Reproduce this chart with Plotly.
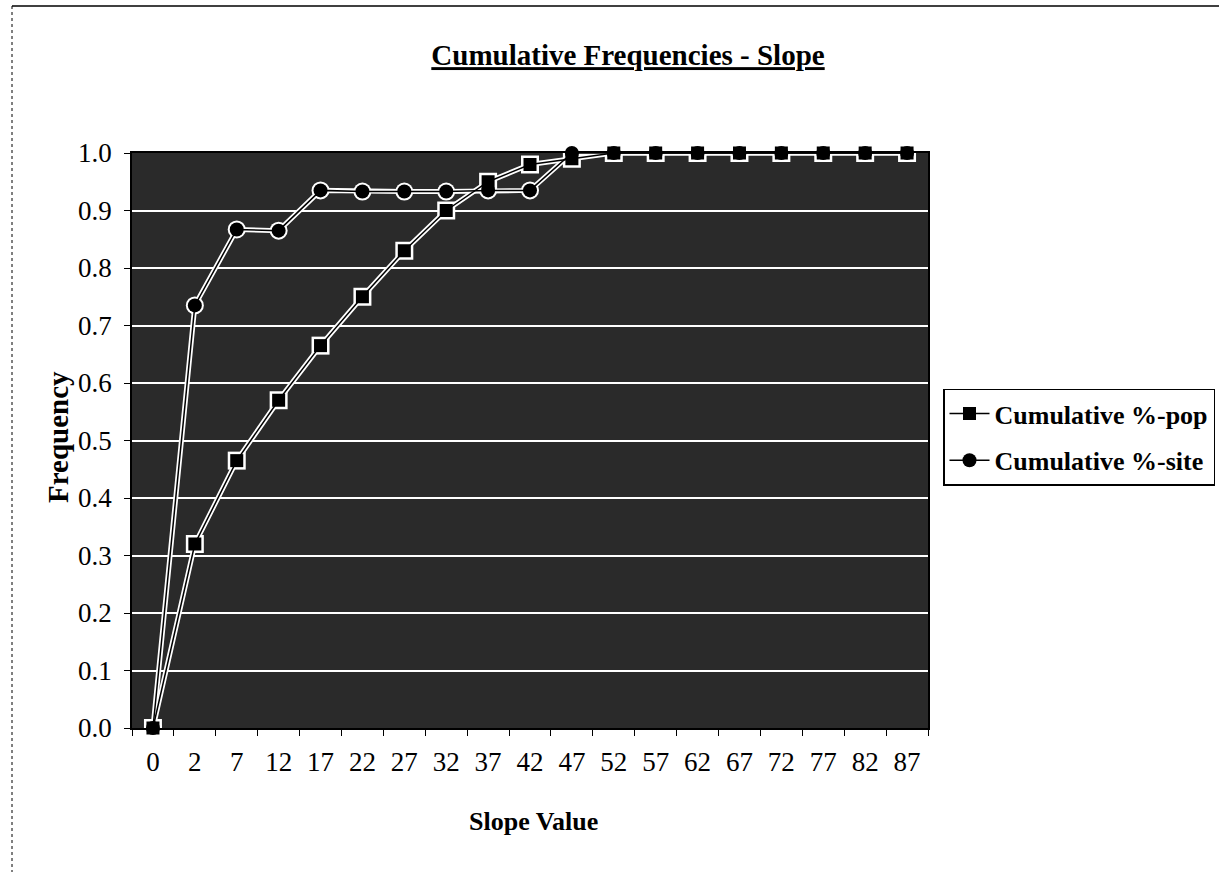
import plotly.graph_objects as go

categories = ["0", "2", "7", "12", "17", "22", "27", "32", "37", "42",
              "47", "52", "57", "62", "67", "72", "77", "82", "87"]
cum_pop = [0.0, 0.32, 0.465, 0.57, 0.665, 0.75, 0.83, 0.90, 0.95, 0.98,
           0.99, 1.0, 1.0, 1.0, 1.0, 1.0, 1.0, 1.0, 1.0]
cum_site = [0.0, 0.735, 0.867, 0.865, 0.935, 0.933, 0.933, 0.933, 0.935, 0.935,
            1.0, 1.0, 1.0, 1.0, 1.0, 1.0, 1.0, 1.0, 1.0]

W, H = 1219, 872
L, R, T, B = 132, 291, 153, 144
FONT = "Liberation Serif, Times New Roman, serif"


def px_x(px):
    return (px - L) / (W - L - R)


def px_y(py):
    return (H - B - py) / (H - T - B)


fig = go.Figure()

# white halo under each series
for ys, sym in ((cum_site, "circle"), (cum_pop, "square")):
    fig.add_trace(go.Scatter(
        x=categories, y=ys, mode="lines+markers", showlegend=False,
        hoverinfo="skip", cliponaxis=False,
        line=dict(color="white", width=5),
        marker=dict(symbol=sym, size=18, color="white"),
    ))

fig.add_trace(go.Scatter(
    x=categories, y=cum_site, mode="lines+markers", name="<b>Cumulative %-site</b>",
    cliponaxis=False, legendgroup="b", legendrank=2,
    line=dict(color="black", width=1.5),
    marker=dict(symbol="circle", size=14, color="black"),
))
fig.add_trace(go.Scatter(
    x=categories, y=cum_pop, mode="lines+markers", name="<b>Cumulative %-pop</b>",
    cliponaxis=False, legendgroup="a", legendrank=1,
    line=dict(color="black", width=1.5),
    marker=dict(symbol="square", size=13, color="black"),
))

shapes = [
    dict(type="line", xref="paper", yref="paper", x0=px_x(12), x1=px_x(1219),
         y0=px_y(6), y1=px_y(6), line=dict(color="black", width=1.5)),
    dict(type="line", xref="paper", yref="paper", x0=px_x(12), x1=px_x(12),
         y0=px_y(6), y1=px_y(872), line=dict(color="black", width=1, dash="dot")),
]

annotations = [
    dict(text="<b>Frequency</b>", xref="paper", yref="paper",
         x=px_x(58), y=px_y(437), xanchor="center", yanchor="middle",
         textangle=-90, showarrow=False, font=dict(size=29, family=FONT, color="black")),
    dict(text="<b>Slope Value</b>", xref="paper", yref="paper",
         x=px_x(533), y=px_y(821), xanchor="center", yanchor="middle",
         showarrow=False, font=dict(size=26, family=FONT, color="black")),
]

fig.update_layout(
    width=W, height=H,
    margin=dict(l=L, r=R, t=T, b=B, autoexpand=False),
    paper_bgcolor="white",
    plot_bgcolor="#2a2a2a",
    font=dict(family=FONT, color="black", size=26),
    title=dict(text="<b><u>Cumulative Frequencies - Slope</u></b>",
               x=628 / W, xref="container", xanchor="center",
               y=1 - 55 / H, yref="container", yanchor="middle",
               font=dict(size=29, family=FONT, color="black")),
    xaxis=dict(
        type="category", categoryorder="array", categoryarray=categories,
        range=[-0.5, len(categories) - 0.5],
        showgrid=False, zeroline=False,
        showline=True, linecolor="black", linewidth=1.5, mirror=True,
        ticks="outside", ticklen=6, tickcolor="black", tickson="boundaries",
        ticklabelstandoff=9,
        tickfont=dict(size=27, family=FONT),
    ),
    yaxis=dict(
        range=[0, 1.0], dtick=0.1, tickformat=".1f",
        showgrid=True, gridcolor="white", gridwidth=1.5,
        zeroline=False,
        showline=True, linecolor="black", linewidth=1.5, mirror=True,
        ticks="outside", ticklen=6, tickcolor="black",
        ticklabelstandoff=7,
        tickfont=dict(size=27, family=FONT),
    ),
    legend=dict(
        x=px_x(943), xanchor="left", y=px_y(437), yanchor="middle",
        bgcolor="white", bordercolor="black", borderwidth=1.5,
        font=dict(size=26, family=FONT),
        traceorder="grouped", tracegroupgap=10,
        itemwidth=40,
    ),
    shapes=shapes,
    annotations=annotations,
)

fig.write_html("out.html")
